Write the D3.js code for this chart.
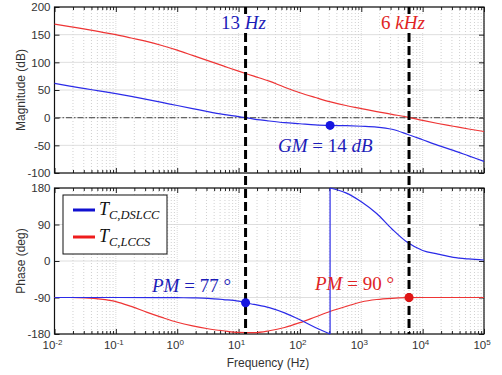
<!DOCTYPE html>
<html>
<head>
<meta charset="utf-8">
<script src="https://cdn.jsdelivr.net/npm/d3@7"></script>
<style>
body { margin: 0; background: white; }
</style>
</head>
<body>
<script>
var svgWidth = 502
var svgHeight = 375

// frequencies (Hz), quarter decade steps
var freqs = [0.01, 0.0178, 0.0316, 0.0562, 0.1, 0.178, 0.316, 0.562, 1, 1.78, 3.16, 5.62,
  10, 17.8, 31.6, 56.2, 100, 178, 316, 562, 1000, 1780, 3160, 5620, 10000, 17800, 31600, 56200, 100000]

// magnitude (dB)
var magBlue = [62, 57, 52.5, 48, 43.5, 38.5, 33, 27.5, 22, 16.5, 11, 6,
  2, -2.5, -6, -9, -11, -13, -14, -14.5, -15.5, -17, -21, -30, -40, -50, -59, -69, -79]
var magRed = [169, 164.5, 160, 155, 150, 144, 138, 130.5, 122, 112.5, 103, 93.5,
  84, 75, 66, 55, 45, 36.5, 28.5, 22, 16.5, 11, 6, 1, -5, -10.5, -15.5, -20.5, -25]

// phase (deg)
var phaseRed = [-90, -90, -91, -94, -100, -112, -126, -139, -151, -160, -167, -172,
  -176, -176.5, -172, -164, -152, -138, -124, -112, -101, -95, -92, -90.5, -90, -90, -90, -90, -90]

// blue phase wraps from -180 to +180 at ~310 Hz
var phaseBlueFreqs = [0.01, 0.1, 1, 1.78, 3.16, 5.62, 10, 13, 17.8, 31.6, 56.2, 100, 178, 310,
  310, 562, 1000, 1780, 3160, 5620, 10000, 17800, 31600, 56200, 100000]
var phaseBlue = [-90, -90, -90.5, -91, -92, -95, -99, -103, -107, -115, -128, -145, -164, -180,
  180, 168, 146, 117, 79, 46, 26, 17, 9, 5, 2.5]
var wrapIndex = 14

var magTicks = [200, 150, 100, 50, 0, -50, -100]
var phaseTicks = [180, 90, 0, -90, -180]
var decadeExps = [-2, -1, 0, 1, 2, 3, 4, 5]

var crossFreqs = [13, 6000]
var gmPoint = { f: 310, v: -14 }
var pmPoints = [{ f: 13, v: -103, c: '#1515e0' }, { f: 6000, v: -90, c: '#e01515' }]

var blueLine = '#2b2be8'
var redLine = '#ee3535'
var blueText = '#1c1cb8'
var redText = '#e02424'

var left = 54.5, right = 484
var top1 = 7, bottom1 = 173
var top2 = 188, bottom2 = 334

var svg = d3.select('body').append('svg')
  .attr('width', svgWidth)
  .attr('height', svgHeight)
  .style('font-family', 'Liberation Sans, Arial, sans-serif')

svg.append('rect').attr('width', svgWidth).attr('height', svgHeight).attr('fill', 'white')

var x = d3.scaleLog().domain([0.01, 100000]).range([left, right])
var yMag = d3.scaleLinear().domain([-100, 200]).range([bottom1, top1])
var yPh = d3.scaleLinear().domain([-180, 180]).range([bottom2, top2])

var decades = decadeExps.map(e => Math.pow(10, e))
var minors = []
decadeExps.slice(0, -1).forEach(e => {
  for (var k = 2; k <= 9; k++) minors.push(k * Math.pow(10, e))
})

function drawPanel(y, ticks, yTop, yBottom) {
  var g = svg.append('g')

  // minor grid
  g.selectAll('.minor').data(minors).enter().append('line')
    .attr('x1', d => x(d)).attr('x2', d => x(d))
    .attr('y1', yTop).attr('y2', yBottom)
    .attr('stroke', '#c4c4c4').attr('stroke-width', 0.8)
    .attr('stroke-dasharray', '1,2')

  // major grid
  g.selectAll('.majx').data(decades).enter().append('line')
    .attr('x1', d => x(d)).attr('x2', d => x(d))
    .attr('y1', yTop).attr('y2', yBottom)
    .attr('stroke', '#d0d0d0').attr('stroke-width', 0.8)
    .attr('stroke-dasharray', '1,1')
  g.selectAll('.majy').data(ticks).enter().append('line')
    .attr('x1', left).attr('x2', right)
    .attr('y1', d => y(d)).attr('y2', d => y(d))
    .attr('stroke', '#d6d6d6').attr('stroke-width', 0.8)

  // axes with inward ticks
  var axL = g.append('g').attr('transform', 'translate(' + left + ',0)')
    .call(d3.axisLeft(y).tickValues(ticks).tickSize(-5).tickPadding(4))
  axL.select('.domain').remove()
  axL.selectAll('text').attr('font-size', 11.5).attr('fill', '#333')
    .attr('font-family', 'Liberation Sans, Arial, sans-serif')
    .text(d => d < 0 ? '-' + Math.abs(d) : d)
  var axR = g.append('g').attr('transform', 'translate(' + right + ',0)')
    .call(d3.axisRight(y).tickValues(ticks).tickSize(-5).tickFormat(''))
  axR.select('.domain').remove()

  ;[[yBottom, d3.axisBottom], [yTop, d3.axisTop]].forEach(p => {
    var a = g.append('g').attr('transform', 'translate(0,' + p[0] + ')')
      .call(p[1](x).tickValues(decades).tickSize(-5).tickFormat(''))
    a.select('.domain').remove()
    var b = g.append('g').attr('transform', 'translate(0,' + p[0] + ')')
      .call(p[1](x).tickValues(minors).tickSize(-3).tickFormat(''))
    b.select('.domain').remove()
  })
  g.selectAll('.tick line').attr('stroke', '#222')

  g.append('rect')
    .attr('x', left).attr('y', yTop)
    .attr('width', right - left).attr('height', yBottom - yTop)
    .attr('fill', 'none').attr('stroke', '#111').attr('stroke-width', 1.2)
}

drawPanel(yMag, magTicks, top1, bottom1)
drawPanel(yPh, phaseTicks, top2, bottom2)

// 0 dB reference line
svg.append('line')
  .attr('x1', left).attr('x2', right)
  .attr('y1', yMag(0)).attr('y2', yMag(0))
  .attr('stroke', '#666').attr('stroke-width', 1.4)
  .attr('stroke-dasharray', '6,2,1.5,2')

// curves
var magLine = d3.line().x(d => x(d[0])).y(d => yMag(d[1])).curve(d3.curveMonotoneX)
var phLine = d3.line().x(d => x(d[0])).y(d => yPh(d[1])).curve(d3.curveMonotoneX)

svg.append('path').datum(d3.zip(freqs, magRed)).attr('d', magLine)
  .attr('fill', 'none').attr('stroke', redLine).attr('stroke-width', 1.2)
svg.append('path').datum(d3.zip(freqs, magBlue)).attr('d', magLine)
  .attr('fill', 'none').attr('stroke', blueLine).attr('stroke-width', 1.2)

svg.append('path').datum(d3.zip(freqs, phaseRed)).attr('d', phLine)
  .attr('fill', 'none').attr('stroke', redLine).attr('stroke-width', 1.2)

var bluePh = d3.zip(phaseBlueFreqs, phaseBlue)
svg.append('path').datum(bluePh.slice(0, wrapIndex)).attr('d', phLine)
  .attr('fill', 'none').attr('stroke', blueLine).attr('stroke-width', 1.2)
svg.append('path').datum(bluePh.slice(wrapIndex)).attr('d', phLine)
  .attr('fill', 'none').attr('stroke', blueLine).attr('stroke-width', 1.2)
svg.append('line')
  .attr('x1', x(phaseBlueFreqs[wrapIndex])).attr('x2', x(phaseBlueFreqs[wrapIndex]))
  .attr('y1', yPh(phaseBlue[wrapIndex - 1])).attr('y2', yPh(phaseBlue[wrapIndex]))
  .attr('stroke', blueLine).attr('stroke-width', 1.2)

// crossover dashed lines
svg.selectAll('.cross').data(crossFreqs).enter().append('line')
  .attr('x1', d => x(d)).attr('x2', d => x(d))
  .attr('y1', top1).attr('y2', bottom2)
  .attr('stroke', 'black').attr('stroke-width', 3)
  .attr('stroke-dasharray', '9,4')

// markers
svg.append('circle')
  .attr('cx', x(gmPoint.f)).attr('cy', yMag(gmPoint.v)).attr('r', 4.5)
  .attr('fill', '#1515e0')
svg.selectAll('.pm').data(pmPoints).enter().append('circle')
  .attr('cx', d => x(d.f)).attr('cy', d => yPh(d.v)).attr('r', 4.5)
  .attr('fill', d => d.c)

// annotation text
var serif = 'Liberation Serif, Times New Roman, serif'
function note(px, py, parts, color, bg) {
  var t = svg.append('text')
    .attr('x', px).attr('y', py)
    .attr('font-family', serif).attr('font-size', 19)
    .attr('fill', color)
    .attr('xml:space', 'preserve')
  parts.forEach(p => {
    t.append('tspan').attr('font-style', p[1] ? 'italic' : 'normal').text(p[0])
  })
  if (bg) {
    var b = t.node().getBBox()
    svg.insert('rect', function () { return t.node() })
      .attr('x', b.x - 1).attr('y', b.y + 2)
      .attr('width', b.width + 2).attr('height', b.height - 3)
      .attr('fill', 'white')
  }
}

note(221, 29, [['13 ', false], ['Hz', true]], blueText, true)
note(381, 29, [['6 ', false], ['kHz', true]], redText, true)
note(278, 152, [['GM', true], [' = 14 ', false], ['dB', true]], blueText, false)
note(152, 292, [['PM', true], [' = 77 °', false]], blueText, false)
note(315, 290, [['PM', true], [' = 90 °', false]], redText, false)

// x tick labels
var xl = svg.selectAll('.xl').data(decadeExps).enter().append('text')
  .attr('x', d => x(Math.pow(10, d)) - 2)
  .attr('y', 349)
  .attr('text-anchor', 'middle')
  .attr('font-size', 11.5).attr('fill', '#333')
xl.append('tspan').text('10')
xl.append('tspan').attr('dy', -4).attr('font-size', 8).text(d => d < 0 ? '-' + Math.abs(d) : d)

// axis labels
svg.append('text').attr('x', 268).attr('y', 367).attr('text-anchor', 'middle')
  .attr('font-size', 12).attr('fill', '#333').text('Frequency  (Hz)')
svg.append('text').attr('transform', 'translate(25,' + (top1 + bottom1) / 2 + ') rotate(-90)')
  .attr('text-anchor', 'middle').attr('font-size', 12).attr('fill', '#333').text('Magnitude (dB)')
svg.append('text').attr('transform', 'translate(25,' + (top2 + bottom2) / 2 + ') rotate(-90)')
  .attr('text-anchor', 'middle').attr('font-size', 12).attr('fill', '#333').text('Phase (deg)')

// legend
var legendNames = [['C,DSLCC', '#1010d0'], ['C,LCCS', '#ee1c1c']]
var legend = svg.append('g')
legend.append('rect')
  .attr('x', 63).attr('y', 195).attr('width', 104).attr('height', 59)
  .attr('fill', 'white').attr('stroke', '#111').attr('stroke-width', 1)
legendNames.forEach((n, i) => {
  var ly = 210 + i * 27
  legend.append('line')
    .attr('x1', 73).attr('x2', 95).attr('y1', ly).attr('y2', ly)
    .attr('stroke', n[1]).attr('stroke-width', 3)
  var t = legend.append('text')
    .attr('x', 99).attr('y', ly + 5)
    .attr('font-family', serif).attr('font-style', 'italic')
    .attr('fill', '#111')
  t.append('tspan').attr('font-size', 18).text('T')
  t.append('tspan').attr('font-size', 12.5).attr('dy', 4).text(n[0])
})
</script>
</body>
</html>
